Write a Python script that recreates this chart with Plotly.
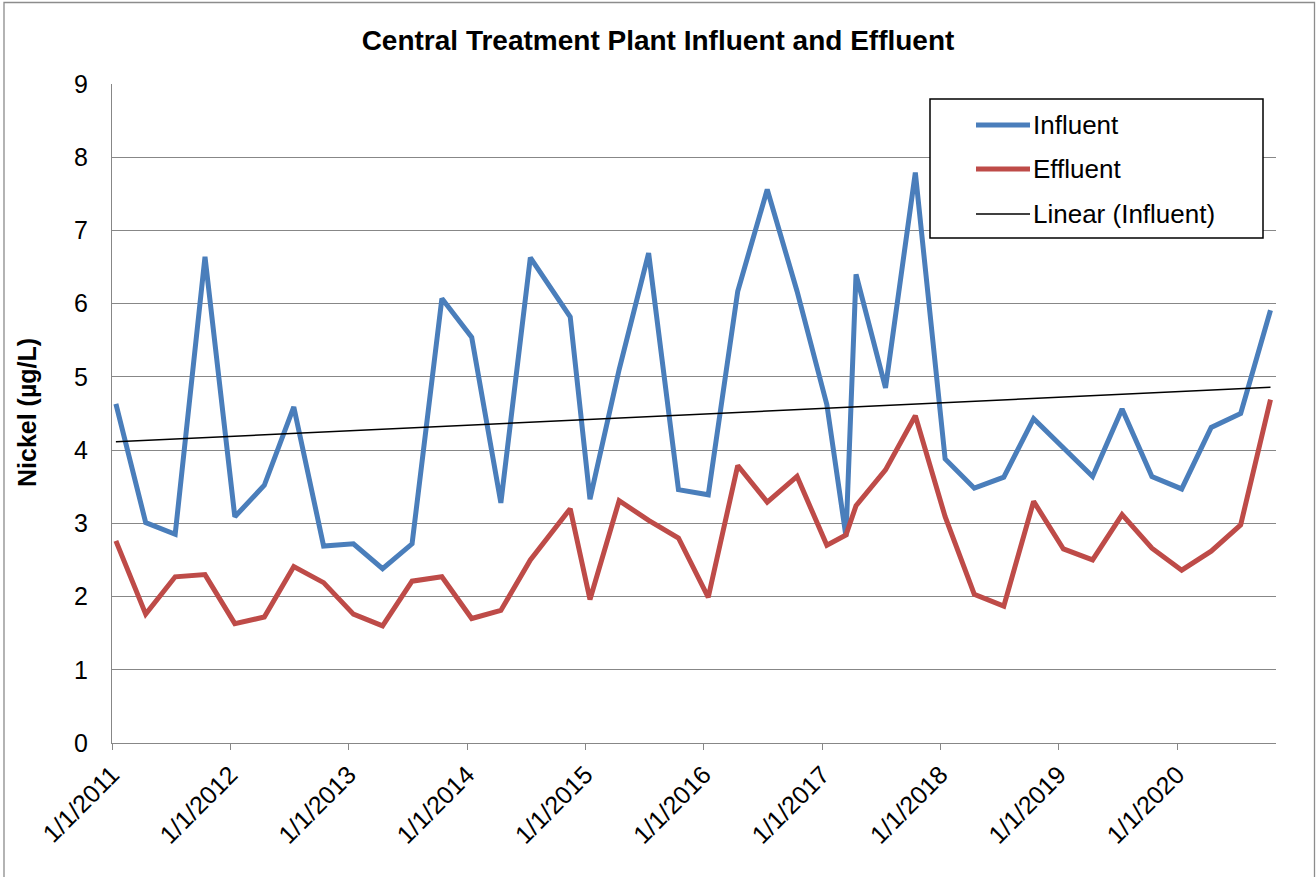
import numpy as np
import pandas as pd
import plotly.graph_objects as go

dates = [
    "2011-01-13", "2011-04-15", "2011-07-15", "2011-10-15",
    "2012-01-15", "2012-04-15", "2012-07-15", "2012-10-15",
    "2013-01-15", "2013-04-15", "2013-07-15", "2013-10-15",
    "2014-01-15", "2014-04-15", "2014-07-15", "2014-11-15",
    "2015-01-15", "2015-04-15", "2015-07-15", "2015-10-15",
    "2016-01-15", "2016-04-15", "2016-07-15", "2016-10-15",
    "2017-01-15", "2017-03-15", "2017-04-15", "2017-07-15", "2017-10-15",
    "2018-01-15", "2018-04-15", "2018-07-15", "2018-10-15",
    "2019-01-15", "2019-04-15", "2019-07-15", "2019-10-15",
    "2020-01-15", "2020-04-15", "2020-07-15", "2020-10-15",
]
influent = [
    4.63, 3.01, 2.85, 6.64,
    3.09, 3.52, 4.59, 2.69,
    2.72, 2.38, 2.72, 6.07,
    5.54, 3.28, 6.63, 5.82,
    3.33, 5.10, 6.69, 3.46,
    3.39, 6.17, 7.56, 6.17,
    4.62, 2.82, 6.40, 4.85, 7.79,
    3.88, 3.48, 3.63, 4.43,
    4.04, 3.64, 4.56, 3.64,
    3.47, 4.31, 4.50, 5.91,
]
effluent = [
    2.76, 1.76, 2.27, 2.30,
    1.63, 1.72, 2.41, 2.19,
    1.76, 1.60, 2.21, 2.27,
    1.70, 1.81, 2.50, 3.20,
    1.96, 3.31, 3.04, 2.80,
    1.99, 3.79, 3.29, 3.64,
    2.70, 2.84, 3.24, 3.73, 4.47,
    3.09, 2.03, 1.87, 3.30,
    2.65, 2.50, 3.12, 2.66,
    2.36, 2.62, 2.98, 4.69,
]
tick_dates = [f"{y}-01-01" for y in range(2011, 2021)]
tick_labels = [f"1/1/{y}" for y in range(2011, 2021)]
y_ticks = list(range(0, 10))

BLUE = "#4A7EBB"
RED = "#BE4B48"
GRID = "#878787"
FONT = "Liberation Sans, Arial"

d = pd.to_datetime(dates)
days = (d - d[0]).days.values.astype(float)
slope, intercept = np.polyfit(days, np.array(influent), 1)
trend_x = [d[0], d[-1]]
trend_y = [intercept, intercept + slope * days[-1]]

fig = go.Figure()
fig.add_trace(go.Scatter(x=d, y=influent, mode="lines", name="Influent",
                         line=dict(color=BLUE, width=5), showlegend=False))
fig.add_trace(go.Scatter(x=d, y=effluent, mode="lines", name="Effluent",
                         line=dict(color=RED, width=5), showlegend=False))
fig.add_trace(go.Scatter(x=trend_x, y=trend_y, mode="lines", name="Linear (Influent)",
                         line=dict(color="black", width=1.5), showlegend=False))

W, H = 1316, 877
L, R, T, B = 112, 40, 84, 134
pw = W - L - R
ph = H - T - B

def px(xp):
    return (xp - L) / pw

def py(yp):
    return (H - B - yp) / ph

shapes = [
    # outer chart border
    dict(type="rect", xref="paper", yref="paper", x0=px(4), x1=px(1314.5),
         y0=py(885), y1=py(2.5), line=dict(color="#8c8c8c", width=1.3), layer="below"),
    # legend box
    dict(type="rect", xref="paper", yref="paper", x0=px(930), x1=px(1263),
         y0=py(238), y1=py(99), line=dict(color="black", width=1.5),
         fillcolor="white", layer="above"),
]
legend_items = [("Influent", BLUE, 5, 125), ("Effluent", RED, 5, 169),
                ("Linear (Influent)", "black", 1.5, 214)]
annotations = []
for name, col, w, yy in legend_items:
    shapes.append(dict(type="line", xref="paper", yref="paper", x0=px(976), x1=px(1030),
                       y0=py(yy), y1=py(yy), line=dict(color=col, width=w), layer="above"))
    annotations.append(dict(text=name, xref="paper", yref="paper", x=px(1031), y=py(yy),
                            xanchor="left", yanchor="middle", showarrow=False,
                            font=dict(family=FONT, size=26, color="black")))
annotations.append(dict(text="<b>Nickel (µg/L)</b>", xref="paper", yref="paper",
                        x=px(27), y=py(413), xanchor="center", yanchor="middle",
                        textangle=-90, showarrow=False,
                        font=dict(family=FONT, size=25, color="black")))

fig.update_layout(
    width=W, height=H,
    margin=dict(l=L, r=R, t=T, b=B),
    paper_bgcolor="white", plot_bgcolor="white",
    font=dict(family=FONT, size=25, color="black"),
    title=dict(text="<b>Central Treatment Plant Influent and Effluent</b>",
               x=0.5, xanchor="center", y=1 - 40 / H, yanchor="middle",
               font=dict(size=28, family=FONT)),
    shapes=shapes,
    annotations=annotations,
    showlegend=False,
)
fig.update_xaxes(
    type="date",
    range=["2011-01-01", "2020-11-01"],
    tickvals=tick_dates, ticktext=tick_labels,
    tickangle=-45,
    ticks="outside", ticklen=6, tickcolor=GRID, tickwidth=1.3,
    showline=True, linecolor=GRID, linewidth=1.3,
    showgrid=False, zeroline=False,
    tickfont=dict(size=25),
)
fig.update_yaxes(
    range=[0, 9],
    tickvals=y_ticks,
    showgrid=True, gridcolor=GRID, gridwidth=1.3,
    showline=True, linecolor=GRID, linewidth=1.3,
    zeroline=False, ticks="", ticklabelstandoff=18,
    tickfont=dict(size=25),
)

fig.write_html("out.html", config={"displayModeBar": False},
               post_script="document.body.style.margin='0';")
